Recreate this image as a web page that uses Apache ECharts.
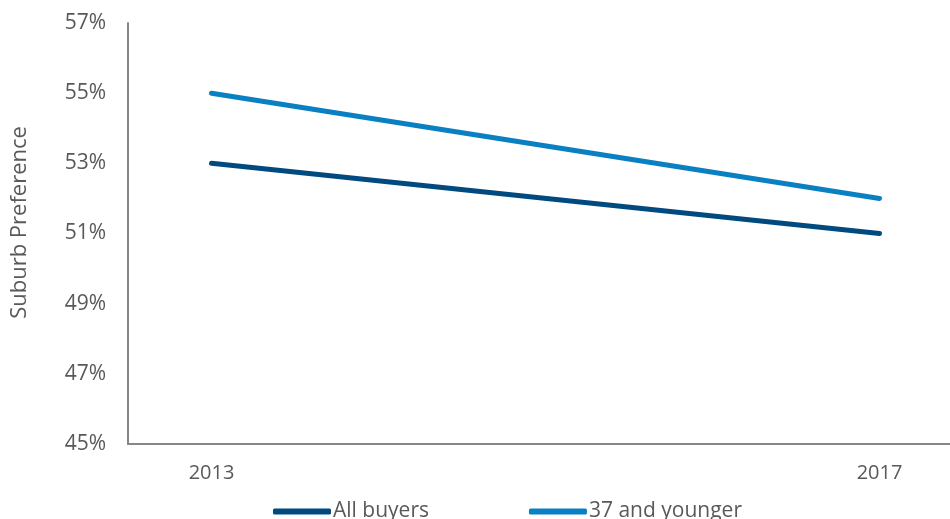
<!DOCTYPE html>
<html>
<head>
<meta charset="utf-8">
<script src="https://cdn.jsdelivr.net/npm/echarts@6/dist/echarts.min.js"></script>
<style>
  html, body { margin: 0; padding: 0; background: #fff; }
  #chart { width: 950px; height: 519px; }
</style>
</head>
<body>
<div id="chart"></div>
<script>
// Survey years and share of buyers preferring the suburbs (%)
const years = [2013, 2017];
const allBuyers = [53, 51];
const youngBuyers = [55, 52];
const yTicks = [45, 47, 49, 51, 53, 55, 57];

const textColor = '#595959';
const axisColor = '#868686';
const font = 'Open Sans';

const chart = echarts.init(document.getElementById('chart'));
chart.setOption({
  animation: false,
  grid: {
    left: 128, right: -13, top: 23, bottom: 75,
    containLabel: false,
    outerBoundsMode: 'none'
  },
  xAxis: {
    type: 'value',
    min: 2012.5,
    max: 2017.5,
    axisLine: { show: true, lineStyle: { color: axisColor, width: 2 } },
    axisTick: { show: false },
    splitLine: { show: false },
    axisLabel: {
      customValues: years,
      color: textColor,
      fontFamily: font,
      fontSize: 20,
      margin: 19,
      formatter: v => String(v)
    }
  },
  yAxis: {
    type: 'value',
    min: yTicks[0],
    max: yTicks[yTicks.length - 1],
    interval: 2,
    name: 'Suburb Preference',
    nameLocation: 'middle',
    nameRotate: 90,
    nameGap: 97,
    nameTextStyle: {
      color: textColor, fontFamily: font, fontSize: 22,
      padding: [0, 0, 0, 22]
    },
    axisLine: { show: true, lineStyle: { color: axisColor, width: 2 } },
    axisTick: { show: false },
    splitLine: { show: false },
    axisLabel: {
      color: textColor,
      fontFamily: font,
      fontSize: 21,
      margin: 22,
      formatter: '{value}%'
    }
  },
  legend: {
    left: 268,
    top: 496,
    itemWidth: 58,
    itemHeight: 6,
    itemGap: 100,
    icon: 'roundRect',
    textStyle: { color: textColor, fontFamily: font, fontSize: 21, padding: [0, 0, 0, -3] },
    data: ['All buyers', '37 and younger']
  },
  series: [
    {
      name: 'All buyers',
      type: 'line',
      data: years.map((y, i) => [y, allBuyers[i]]),
      showSymbol: false,
      lineStyle: { color: '#004A80', width: 5, cap: 'round' },
      itemStyle: { color: '#004A80' }
    },
    {
      name: '37 and younger',
      type: 'line',
      data: years.map((y, i) => [y, youngBuyers[i]]),
      showSymbol: false,
      lineStyle: { color: '#0A80C2', width: 5, cap: 'round' },
      itemStyle: { color: '#0A80C2' }
    }
  ]
});
</script>
</body>
</html>
